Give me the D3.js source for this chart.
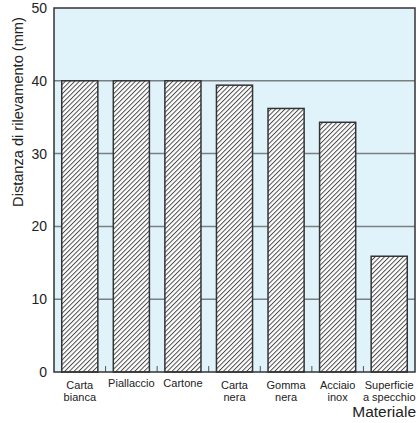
<!DOCTYPE html>
<html>
<head>
<meta charset="utf-8">
<script src="https://cdn.jsdelivr.net/npm/d3@7"></script>
<style>
  body { margin: 0; background: #fff; }
  svg text { font-family: "Liberation Sans", Arial, sans-serif; fill: #222; }
</style>
</head>
<body>
<svg id="chart" width="418" height="423"></svg>
<script>
'use strict'

// categories (label lines) and values in mm
const categories = ['Carta bianca', 'Piallaccio', 'Cartone', 'Carta nera', 'Gomma nera', 'Acciaio inox', 'Superficie a specchio']
const labelLines = [['Carta', 'bianca'], ['Piallaccio'], ['Cartone'], ['Carta', 'nera'], ['Gomma', 'nera'], ['Acciaio', 'inox'], ['Superficie', 'a specchio']]
const distances = [40, 40, 40, 39.4, 36.2, 34.3, 15.9]
const yTicks = [0, 10, 20, 30, 40, 50]

const margins = {top: 8, right: 3, bottom: 51, left: 54}
const width = 418 - margins.left - margins.right
const height = 423 - margins.top - margins.bottom

const svg = d3.select('#chart')
const g = svg.append('g').attr('transform', 'translate(' + margins.left + ',' + margins.top + ')')

// hatch pattern for the bars
const defs = svg.append('defs')
defs.append('pattern')
  .attr('id', 'hatch')
  .attr('patternUnits', 'userSpaceOnUse')
  .attr('width', 3.3).attr('height', 3.3)
  .attr('patternTransform', 'rotate(45)')
  .call(p => {
    p.append('rect').attr('width', 3.3).attr('height', 3.3).attr('fill', '#fff')
    p.append('line').attr('x1', 0.5).attr('y1', 0).attr('x2', 0.5).attr('y2', 3.3)
      .attr('stroke', '#3a3a3a').attr('stroke-width', 0.9)
  })

const x = d3.scaleBand().domain(categories).range([0, width]).paddingInner(0.3).paddingOuter(0.15)
const y = d3.scaleLinear().domain([0, 50]).range([height, 0])

// background
g.append('rect').attr('width', width).attr('height', height).attr('fill', '#e0f3fb')

// grid lines
g.selectAll('.grid')
  .data(yTicks.filter(d => d > 0 && d < 50))
  .enter().append('line')
  .attr('x1', 0).attr('x2', width)
  .attr('y1', d => y(d)).attr('y2', d => y(d))
  .attr('stroke', '#7a7f82').attr('stroke-width', 1.5)

// small ticks between categories on the baseline
g.selectAll('.ctick')
  .data(categories.slice(1))
  .enter().append('line')
  .attr('x1', d => x(d) - x.step() * x.paddingInner() / 2)
  .attr('x2', d => x(d) - x.step() * x.paddingInner() / 2)
  .attr('y1', height).attr('y2', height - 6)
  .attr('stroke', '#555').attr('stroke-width', 1)

// bars
g.selectAll('.bar')
  .data(distances)
  .enter().append('rect')
  .attr('x', (d, i) => x(categories[i]))
  .attr('y', d => y(d))
  .attr('width', x.bandwidth())
  .attr('height', d => height - y(d))
  .attr('fill', 'url(#hatch)')
  .attr('stroke', '#333').attr('stroke-width', 1.5)

// frame
g.append('rect').attr('width', width).attr('height', height)
  .attr('fill', 'none').attr('stroke', '#333').attr('stroke-width', 1.5)

// y axis labels
const yAxis = g.append('g')
  .call(d3.axisLeft(y).tickValues(yTicks).tickSize(0).tickPadding(7))
yAxis.select('.domain').remove()
yAxis.selectAll('text').style('font-size', '14px').attr('fill', '#222')

// x labels
const xl = g.selectAll('.xlabel')
  .data(labelLines)
  .enter().append('text')
  .attr('text-anchor', 'middle')
  .style('font-size', '11px')
  .attr('transform', (d, i) => 'translate(' + (x(categories[i]) + x.bandwidth() / 2) + ',' + (height + (d.length > 1 ? 17 : 15)) + ')')
xl.selectAll('tspan')
  .data(d => d)
  .enter().append('tspan')
  .attr('x', 0)
  .attr('dy', (d, i) => i === 0 ? 0 : 11.5)
  .text(d => d)

// axis titles
svg.append('text')
  .attr('transform', 'translate(23,112) rotate(-90)')
  .attr('text-anchor', 'middle')
  .style('font-size', '14.6px')
  .text('Distanza di rilevamento (mm)')

svg.append('text')
  .attr('x', 416).attr('y', 417)
  .attr('text-anchor', 'end')
  .style('font-size', '15.5px')
  .text('Materiale')
</script>
</body>
</html>
